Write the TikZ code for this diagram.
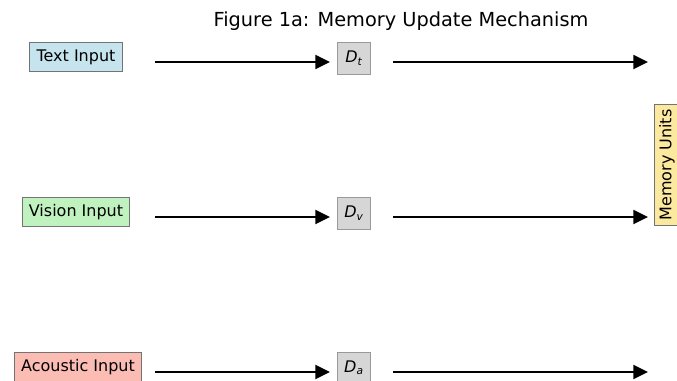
\documentclass[tikz,border=0pt]{standalone}
\usepackage{fontspec}
\setmainfont{DejaVu Sans}
\usetikzlibrary{arrows.meta}
\definecolor{txtbg}{HTML}{C6E4EE}
\definecolor{visbg}{HTML}{BFF2BF}
\definecolor{acobg}{HTML}{FBBDB3}
\definecolor{membg}{HTML}{FCE9A0}
\definecolor{delbg}{HTML}{D6D6D6}
\begin{document}
\begin{tikzpicture}[x=0.75pt,y=-0.75pt,
  inbox/.style={draw=gray!90!black,line width=.6pt,font=\fontsize{12}{14}\selectfont,minimum height=22pt,inner xsep=5pt},
  delta/.style={draw=gray!80,fill=delbg,line width=.6pt,font=\fontsize{12}{14}\selectfont\itshape,minimum width=25pt,minimum height=24pt},
  flow/.style={line width=1.5pt,-{Triangle[length=11pt,width=10.5pt]}}]
\useasboundingbox (0,0) rectangle (677,380);
\node[font=\fontsize{14.5}{17}\selectfont] (title) at (401,21) {Figure 1a: Memory Update Mechanism};
% inputs
\node[inbox,fill=txtbg] (txt) at (76,57) {Text Input};
\node[inbox,fill=visbg] (vis) at (76,212) {Vision Input};
\node[inbox,fill=acobg] (aco) at (78,367) {Acoustic Input};
% update terms
\node[delta] (dt) at (354,58) {D\textsubscript{t}}; \node[delta] (dv) at (354,213) {D\textsubscript{v}}; \node[delta] (da) at (354,368) {D\textsubscript{a}};
\node[inbox,fill=membg,rotate=90,minimum height=15pt,inner xsep=4pt] (mem) at (667,165) {Memory Units};
% connectors
\foreach \r/\y in {t/62,v/217,a/372}{
  \coordinate (s\r) at (155,\y); \coordinate (e\r) at (330,\y);
  \coordinate (o\r) at (393,\y); \coordinate (m\r) at (648,\y);
  \draw[flow] (s\r) -- (e\r); \draw[flow] (o\r) -- (m\r);}
\end{tikzpicture}
\end{document}
